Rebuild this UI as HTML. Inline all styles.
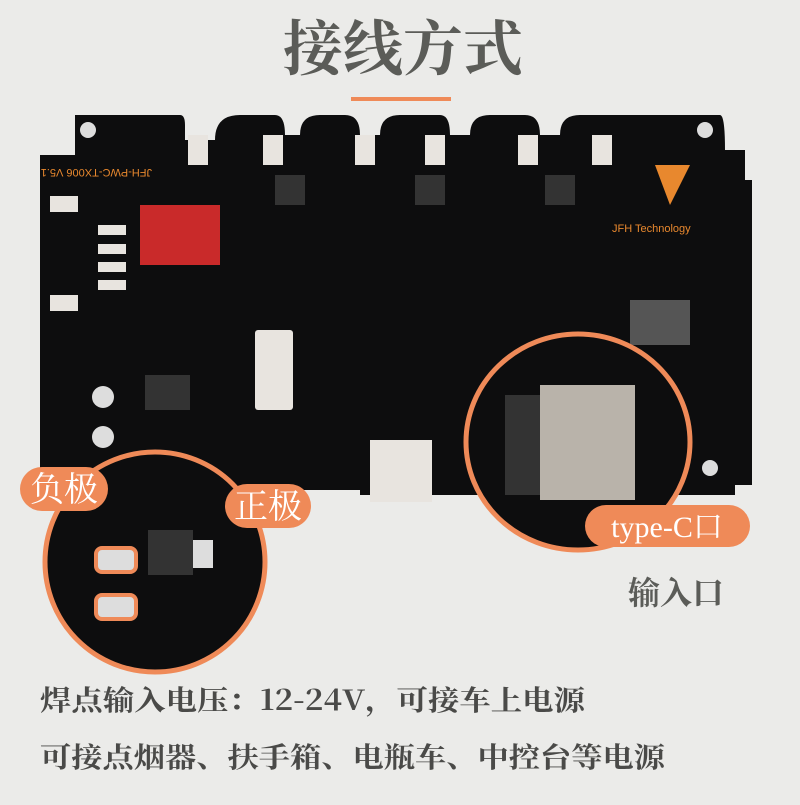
<!DOCTYPE html>
<html><head><meta charset="utf-8"><style>
body{margin:0;width:800px;height:800px;background:#ebebe9;overflow:hidden;font-family:"Liberation Serif","Noto Serif CJK SC",serif}
</style></head><body>
<svg width="800" height="800" viewBox="0 0 800 800" xmlns="http://www.w3.org/2000/svg">
<rect width="800" height="800" fill="#ebebe9"/>
<text x="403" y="70" text-anchor="middle" font-size="60" font-weight="bold" fill="#5b5c58" font-family="Noto Serif CJK SC,serif">接线方式</text>
<rect x="351" y="97" width="100" height="4" fill="#ef8a58"/>
<!-- board -->
<path d="M75 115 H180 Q185 115 185 125 V140 H215 Q215 115 240 115 H275 Q285 115 285 135 H300 Q300 115 320 115 H345 Q360 115 360 135 H380 Q380 115 400 115 H440 Q450 115 450 135 H470 Q470 115 490 115 H525 Q540 115 540 135 H560 Q560 115 580 115 H720 Q725 115 725 150 H745 V180 H752 V485 L735 485 V495 H360 V490 H40 V155 H75 Z" fill="#0d0d0e"/>
<circle cx="88" cy="130" r="8" fill="#ddd"/>
<circle cx="705" cy="130" r="8" fill="#ddd"/>
<circle cx="710" cy="468" r="8" fill="#ddd"/>
<g fill="#e8e4df">
<rect x="188" y="135" width="20" height="30"/><rect x="263" y="135" width="20" height="30"/><rect x="355" y="135" width="20" height="30"/><rect x="425" y="135" width="20" height="30"/><rect x="518" y="135" width="20" height="30"/><rect x="592" y="135" width="20" height="30"/>
<rect x="50" y="196" width="28" height="16"/><rect x="50" y="295" width="28" height="16"/>
<rect x="98" y="225" width="28" height="10"/><rect x="98" y="244" width="28" height="10"/><rect x="98" y="262" width="28" height="10"/><rect x="98" y="280" width="28" height="10"/>
<rect x="255" y="330" width="38" height="80" rx="3"/>
<rect x="370" y="440" width="62" height="62"/>
<rect x="630" y="300" width="60" height="45" fill="#555"/>
</g>
<rect x="140" y="205" width="80" height="60" fill="#c92a2a"/>
<text x="68" y="177" font-size="11" fill="#e8882e" transform="rotate(180 110 173)" font-family="Liberation Sans">JFH-PWC-TX006 V5.1</text>
<text x="612" y="232" font-size="11" fill="#e8882e" font-family="Liberation Sans">JFH Technology</text>
<path d="M655 165 L690 165 L670 205 Z" fill="#e8882e"/>
<g fill="#333"><rect x="275" y="175" width="30" height="30"/><rect x="415" y="175" width="30" height="30"/><rect x="545" y="175" width="30" height="30"/><rect x="145" y="375" width="45" height="35"/></g>
<circle cx="103" cy="397" r="11" fill="#ddd"/><circle cx="103" cy="437" r="11" fill="#ddd"/>
<!-- right circle -->
<ellipse cx="578" cy="442" rx="112" ry="108" fill="#0d0d0e" stroke="#ef8a58" stroke-width="5"/>
<rect x="540" y="385" width="95" height="115" fill="#b9b3aa"/>
<rect x="505" y="395" width="35" height="100" fill="#333"/>
<rect x="585" y="505" width="165" height="42" rx="21" fill="#ef8a58"/>
<text x="667" y="537" text-anchor="middle" font-size="30" fill="#fff">type-C口</text>
<text x="676" y="604" text-anchor="middle" font-size="32" font-weight="bold" fill="#5b5c58" font-family="Noto Serif CJK SC,serif">输入口</text>
<!-- left circle -->
<ellipse cx="155" cy="562" rx="110" ry="110" fill="#0d0d0e" stroke="#ef8a58" stroke-width="5"/>
<rect x="148" y="530" width="45" height="45" fill="#333"/>
<rect x="193" y="540" width="20" height="28" fill="#ddd"/>
<rect x="96" y="548" width="40" height="24" rx="6" fill="#ddd" stroke="#ef8a58" stroke-width="4"/>
<rect x="96" y="595" width="40" height="24" rx="6" fill="#ddd" stroke="#ef8a58" stroke-width="4"/>
<rect x="20" y="467" width="88" height="44" rx="22" fill="#ef8a58"/>
<text x="64" y="501" text-anchor="middle" font-size="34" fill="#fff" font-family="Noto Serif CJK SC,serif">负极</text>
<rect x="225" y="484" width="86" height="44" rx="22" fill="#ef8a58"/>
<text x="268" y="518" text-anchor="middle" font-size="34" fill="#fff" font-family="Noto Serif CJK SC,serif">正极</text>
<text x="40" y="710" font-size="28" font-weight="bold" fill="#4a4a48" font-family="Noto Serif CJK SC,serif" textLength="545" lengthAdjust="spacingAndGlyphs">焊点输入电压：12-24V，可接车上电源</text>
<text x="40" y="767" font-size="28" font-weight="bold" fill="#4a4a48" font-family="Noto Serif CJK SC,serif" textLength="625" lengthAdjust="spacingAndGlyphs">可接点烟器、扶手箱、电瓶车、中控台等电源</text>
</svg>
</body></html>
